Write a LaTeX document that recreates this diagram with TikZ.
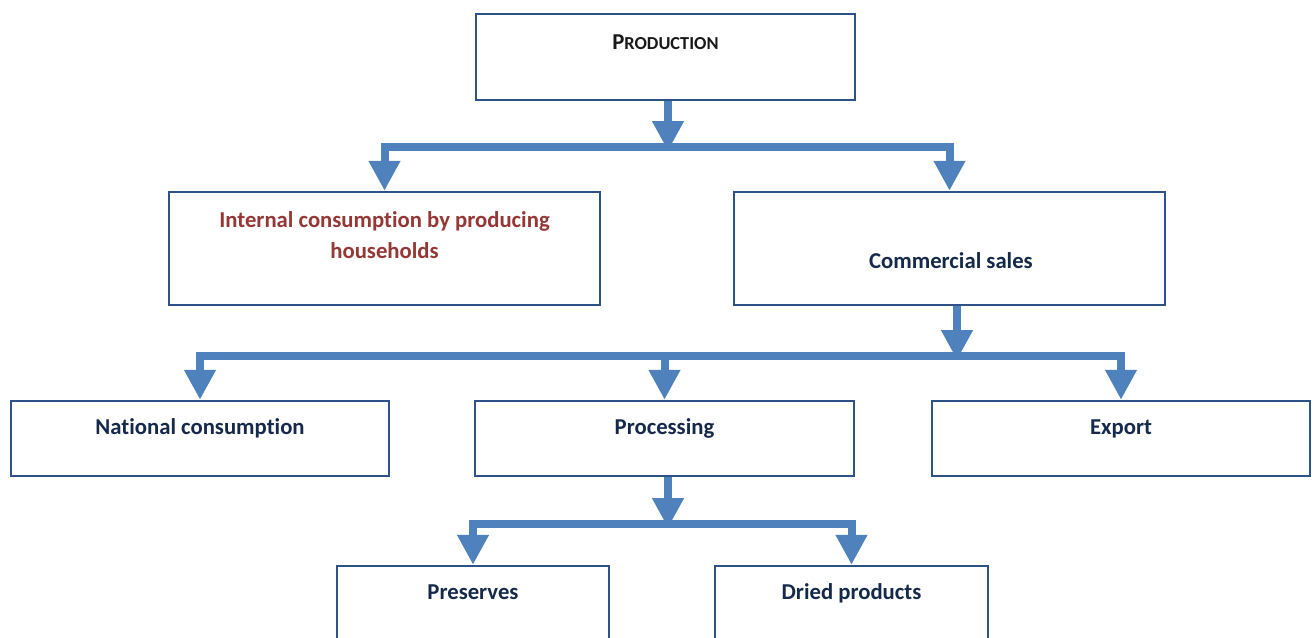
\documentclass[tikz,border=0pt]{standalone}
\usepackage{fontspec}
\setmainfont{Carlito}[Ligatures={NoCommon}]
\usetikzlibrary{arrows.meta}
\definecolor{boxline}{HTML}{2C5287}
\definecolor{flowblue}{HTML}{4F81BD}
\definecolor{navytext}{HTML}{15294A}
\definecolor{redtext}{HTML}{953735}
\tikzset{
  box/.style={draw=boxline, line width=2.5pt, fill=white, inner sep=0pt},
  lbl/.style={font=\fontsize{22.7}{27}\selectfont\bfseries, text=navytext, inner sep=0pt, anchor=base},
  flow/.style={draw=flowblue, line width=8pt, line join=miter,
    -{Triangle[width=30pt,length=30pt]}},
}
\begin{document}
\begin{tikzpicture}[x=1pt,y=-1pt]
\useasboundingbox (0,0) rectangle (1314,637);
\clip (0,0) rectangle (1314,637);

% boxes
\node[box, minimum width=379pt, minimum height=86pt]  (prod) at (665.5,57) {};
\node[box, minimum width=431pt, minimum height=113pt] (cons) at (384.5,248.5) {};
\node[box, minimum width=431pt, minimum height=113pt] (comm) at (949.5,248.5) {};
\node[box, minimum width=378pt, minimum height=75pt]  (nat)  at (200,438.5) {};
\node[box, minimum width=379pt, minimum height=75pt]  (proc) at (664.5,438.5) {};
\node[box, minimum width=378pt, minimum height=75pt]  (expo) at (1121,438.5) {};
\node[box, minimum width=272pt, minimum height=134pt] (pres) at (473,633) {};
\node[box, minimum width=273pt, minimum height=134pt] (dried) at (851.5,633) {};

% labels
\node[lbl, text=black!90] (tprod) at (665.5,49) {P{\fontsize{18.3}{22}\selectfont RODUCTION}};
\node[lbl, anchor=center, align=center, text=redtext,
      font=\fontsize{22.7}{31}\selectfont\bfseries] (tcons) at (384.5,235)
  {Internal consumption by producing\\households};
\node[lbl] (tcomm) at (951,268) {Commercial sales};
\node[lbl] (tnat)  at (200,434) {National consumption};
\node[lbl] (tproc) at (664.5,434) {Processing};
\node[lbl] (texpo) at (1121,434) {Export};
\node[lbl] (tpres) at (473,599) {Preserves};
\node[lbl] (tdried) at (851.5,599) {Dried products};

% junction points of the connectors
\coordinate (j1) at (668,147);
\coordinate (j2) at (957,356);
\coordinate (j3) at (668,524);

% production -> consumption / sales
\draw[flow] ([xshift=2.5pt]prod.south) -- ([yshift=-4pt]j1);
\draw[flow] (j1) -| (cons.north);
\draw[flow] (j1) -| (comm.north);

% commercial sales -> national / processing / export
\draw[flow] ([xshift=7.5pt]comm.south) -- ([yshift=-4pt]j2);
\draw[flow] (j2) -| (nat.north);
\draw[flow] (j2) -| (proc.north);
\draw[flow] (j2) -| (expo.north);

% processing -> preserves / dried products
\draw[flow] ([xshift=3.5pt]proc.south) -- ([yshift=-4pt]j3);
\draw[flow] (j3) -| (pres.north);
\draw[flow] (j3) -| (dried.north);
\end{tikzpicture}
\end{document}
